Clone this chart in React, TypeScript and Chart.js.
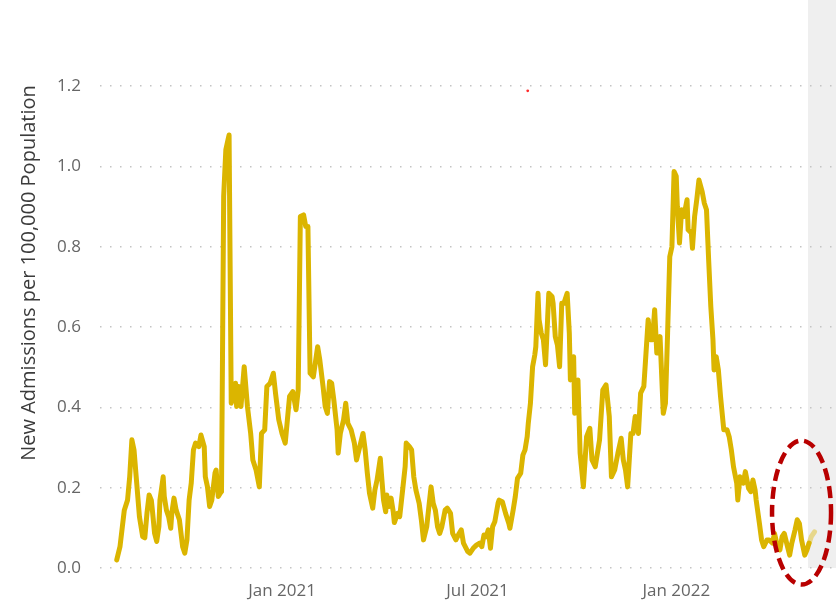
import React, { useEffect, useRef } from "react";
import { Chart, registerables } from "chart.js";

Chart.register(...registerables);

// ---- data ----
const START_DATE = "2020-08-01"; // day 0 of daysSinceStart

const daysSinceStart = [
  0, 3, 7, 10, 12, 14, 16, 18, 21, 24,
  26, 28, 30, 32, 33, 35, 37, 39, 40, 43,
  44, 46, 48, 50, 51, 53, 55, 58, 61, 63,
  65, 67, 69, 71, 73, 76, 78, 81, 82, 84,
  86, 88, 91, 92, 94, 96, 97, 99, 101, 103,
  104, 106, 110, 111, 113, 115, 118, 121, 124, 126,
  129, 132, 134, 137, 139, 142, 145, 147, 150, 153,
  156, 158, 160, 163, 166, 168, 170, 173, 175, 177,
  179, 182, 186, 188, 191, 193, 195, 197, 199, 201,
  204, 205, 207, 210, 212, 214, 217, 220, 222, 225,
  228, 230, 232, 234, 237, 239, 241, 244, 245, 247,
  249, 250, 252, 254, 256, 257, 260, 262, 265, 267,
  268, 271, 273, 275, 277, 280, 282, 284, 287, 289,
  291, 293, 295, 297, 299, 301, 304, 306, 309, 311,
  314, 317, 319, 321, 325, 327, 330, 333, 336, 338,
  340, 342, 344, 346, 348, 350, 353, 354, 357, 360,
  363, 364, 367, 369, 371, 374, 376, 378, 380, 381,
  383, 385, 387, 388, 390, 391, 393, 395, 397, 399,
  400, 403, 404, 406, 408, 410, 412, 414, 417, 419,
  420, 423, 424, 427, 429, 432, 435, 438, 440, 443,
  447, 450, 453, 456, 458, 461, 464, 467, 469, 471,
  473, 476, 478, 480, 483, 485, 488, 492, 494, 496,
  498, 500, 503, 506, 508, 510, 512, 514, 516, 518,
  519, 521, 523, 525, 528, 529, 532, 533, 535, 537,
  539, 542, 544, 546, 548, 550, 552, 553, 555, 557,
  559, 562, 565, 567, 569, 571, 574, 575, 577, 580,
  582, 585, 587, 589, 591, 592, 595, 597, 599, 602,
  604, 607, 609, 611, 614, 616, 618, 621, 623, 625,
  628, 630, 632, 634, 637, 639, 641, 643, 646,
];

const admissionsPer100k = [
  0.020, 0.053, 0.144, 0.169, 0.227, 0.319, 0.294, 0.227, 0.128, 0.078,
  0.075, 0.137, 0.182, 0.169, 0.144, 0.087, 0.066, 0.103, 0.169, 0.227,
  0.178, 0.144, 0.128, 0.099, 0.137, 0.174, 0.144, 0.120, 0.053, 0.037,
  0.070, 0.169, 0.212, 0.294, 0.311, 0.302, 0.331, 0.302, 0.227, 0.202,
  0.153, 0.169, 0.237, 0.244, 0.178, 0.187, 0.190, 0.925, 1.041, 1.066,
  1.078, 0.410, 0.460, 0.402, 0.452, 0.402, 0.501, 0.402, 0.335, 0.269,
  0.244, 0.202, 0.335, 0.344, 0.452, 0.460, 0.485, 0.435, 0.369, 0.335,
  0.311, 0.369, 0.427, 0.439, 0.394, 0.443, 0.875, 0.879, 0.850, 0.850,
  0.485, 0.476, 0.551, 0.518, 0.452, 0.402, 0.385, 0.464, 0.460, 0.418,
  0.344, 0.286, 0.335, 0.369, 0.410, 0.360, 0.344, 0.311, 0.269, 0.302,
  0.335, 0.294, 0.236, 0.186, 0.149, 0.194, 0.219, 0.273, 0.236, 0.169,
  0.140, 0.182, 0.153, 0.174, 0.140, 0.113, 0.136, 0.128, 0.202, 0.252,
  0.311, 0.302, 0.294, 0.227, 0.194, 0.161, 0.120, 0.070, 0.103, 0.153,
  0.202, 0.161, 0.144, 0.103, 0.086, 0.103, 0.144, 0.149, 0.136, 0.086,
  0.070, 0.086, 0.095, 0.062, 0.041, 0.037, 0.049, 0.057, 0.062, 0.053,
  0.082, 0.078, 0.095, 0.049, 0.103, 0.115, 0.161, 0.169, 0.165, 0.136,
  0.111, 0.099, 0.144, 0.178, 0.223, 0.236, 0.281, 0.294, 0.327, 0.360,
  0.410, 0.501, 0.530, 0.551, 0.684, 0.618, 0.585, 0.568, 0.506, 0.626,
  0.684, 0.676, 0.659, 0.576, 0.555, 0.501, 0.659, 0.659, 0.684, 0.585,
  0.468, 0.526, 0.385, 0.468, 0.286, 0.202, 0.327, 0.348, 0.269, 0.252,
  0.319, 0.443, 0.456, 0.377, 0.227, 0.244, 0.286, 0.323, 0.269, 0.244,
  0.202, 0.335, 0.335, 0.377, 0.335, 0.435, 0.452, 0.618, 0.568, 0.568,
  0.643, 0.535, 0.576, 0.385, 0.410, 0.585, 0.775, 0.800, 0.987, 0.975,
  0.900, 0.809, 0.892, 0.875, 0.917, 0.842, 0.834, 0.796, 0.875, 0.917,
  0.966, 0.937, 0.908, 0.892, 0.767, 0.651, 0.568, 0.493, 0.526, 0.493,
  0.427, 0.344, 0.344, 0.327, 0.294, 0.252, 0.211, 0.169, 0.227, 0.211,
  0.240, 0.198, 0.190, 0.219, 0.194, 0.169, 0.111, 0.070, 0.053, 0.070,
  0.070, 0.062, 0.086, 0.062, 0.045, 0.078, 0.086, 0.053, 0.032, 0.062,
  0.095, 0.120, 0.111, 0.070, 0.032, 0.045, 0.062, 0.078, 0.090,
];

const PROVISIONAL_FROM = "2022-05-03";

const xTickDates = ["2021-01-01", "2021-07-01", "2022-01-01"];
const xTickLabels = ["Jan 2021", "Jul 2021", "Jan 2022"];
const yTickValues = [0, 0.2, 0.4, 0.6, 0.8, 1.0, 1.2];
const yAxisTitle = "New Admissions per 100,000 Population";

const markerDays = [380.5];
const markerValues = [1.188];

const highlightDay = 634;
const highlightValue = 0.138;

// ---- helpers / styling ----
const DAY_MS = 86400000;
const dayOf = (iso: string) => (Date.parse(iso) - Date.parse(START_DATE)) / DAY_MS;

const FONT = "'Open Sans', 'DejaVu Sans', sans-serif";
const LINE = "rgb(219,181,0)";
const LINE_LIGHT = "rgba(219,181,0,0.42)";
const X_MIN = -15.5;
const X_MAX = 662.2;

export default function App() {
  const ref = useRef<HTMLCanvasElement>(null);

  useEffect(() => {
    const provisionalDay = dayOf(PROVISIONAL_FROM);

    const bandPlugin = {
      id: "provisionalBand",
      beforeDraw(chart: any) {
        const { ctx, chartArea, scales } = chart;
        const x0 = scales.x.getPixelForValue(provisionalDay);
        ctx.save();
        ctx.fillStyle = "#efefef";
        ctx.fillRect(x0, 0, chart.width - x0, chartArea.bottom);
        ctx.restore();
      },
    };

    const overlayPlugin = {
      id: "overlay",
      afterDraw(chart: any) {
        const { ctx, scales } = chart;
        // y axis title
        ctx.save();
        ctx.translate(29, 273);
        ctx.rotate(-Math.PI / 2);
        ctx.font = `20px ${FONT}`;
        ctx.fillStyle = "#3b3b3b";
        ctx.textAlign = "center";
        ctx.textBaseline = "middle";
        ctx.fillText(yAxisTitle, 0, 0);
        ctx.restore();
        // dashed highlight ellipse
        const cx = scales.x.getPixelForValue(highlightDay);
        const cy = scales.y.getPixelForValue(highlightValue);
        ctx.save();
        ctx.strokeStyle = "#b80000";
        ctx.lineWidth = 4.5;
        ctx.setLineDash([12, 6]);
        ctx.beginPath();
        ctx.ellipse(cx, cy, 29.5, 72, 0, 0, Math.PI * 2);
        ctx.stroke();
        ctx.restore();
      },
    };

    const chart = new Chart(ref.current as HTMLCanvasElement, {
      type: "line",
      data: {
        datasets: [
          {
            label: "New Admissions per 100,000 Population",
            data: daysSinceStart.map((d, i) => ({ x: d, y: admissionsPer100k[i] })),
            borderColor: LINE,
            borderWidth: 5,
            pointRadius: 0,
            tension: 0,
            borderJoinStyle: "round",
            borderCapStyle: "round",
            fill: false,
            segment: {
              borderColor: (c: any) => (c.p0.parsed.x >= provisionalDay ? LINE_LIGHT : undefined),
            },
          } as any,
          {
            label: "marker",
            data: markerDays.map((d, i) => ({ x: d, y: markerValues[i] })),
            showLine: false,
            pointRadius: 1.4,
            pointBorderWidth: 0,
            pointBackgroundColor: "#ff2a2a",
            borderColor: "#ff2a2a",
          } as any,
        ],
      },
      options: {
        responsive: false,
        maintainAspectRatio: false,
        animation: false,
        devicePixelRatio: 1,
        layout: { padding: { top: 86, right: 0, bottom: 0, left: 0 } },
        plugins: {
          legend: { display: false },
          tooltip: { enabled: false },
        },
        scales: {
          x: {
            type: "linear",
            min: X_MIN,
            max: X_MAX,
            grid: { display: false },
            border: { display: false },
            afterBuildTicks: (s: any) => {
              s.ticks = xTickDates.map((d) => ({ value: dayOf(d) }));
            },
            afterFit: (s: any) => {
              s.height = 35;
            },
            ticks: {
              autoSkip: false,
              maxRotation: 0,
              padding: 5,
              color: "#666666",
              font: { family: FONT, size: 17 },
              callback: (_v: any, i: number) => xTickLabels[i],
            },
          },
          y: {
            min: 0,
            max: 1.2,
            afterBuildTicks: (s: any) => {
              s.ticks = yTickValues.map((v) => ({ value: v }));
            },
            afterFit: (s: any) => {
              s.width = 100;
            },
            grid: { color: "#c4c4c4", lineWidth: 1.5, drawTicks: false },
            border: { display: false, dash: [1.5, 8.5] },
            ticks: {
              padding: 19,
              color: "#666666",
              font: { family: FONT, size: 17 },
              callback: (v: any) => Number(v).toFixed(1),
            },
          },
        },
      } as any,
      plugins: [bandPlugin, overlayPlugin],
    });
    return () => chart.destroy();
  }, []);

  return (
    <div style={{ position: "absolute", left: 0, top: 0, width: 836, height: 603, background: "#fff" }}>
      <canvas ref={ref} width={836} height={603} style={{ display: "block", width: 836, height: 603 }} />
    </div>
  );
}
